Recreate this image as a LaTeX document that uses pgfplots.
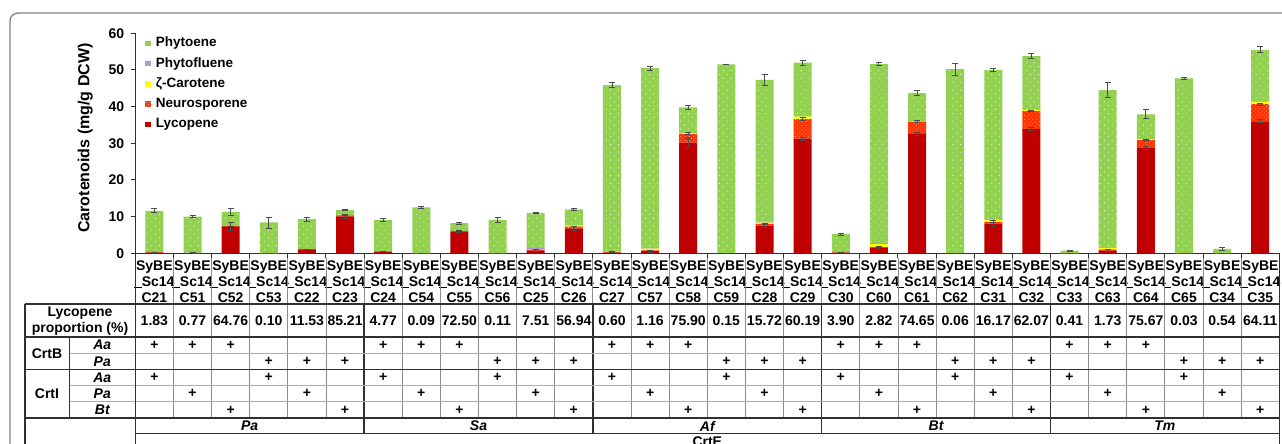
\documentclass[border=0pt]{standalone}
\usepackage{fontspec}
\setmainfont{Liberation Sans}
\usepackage{pgfplots}
\usepackage{pgfplotstable}
\pgfplotsset{compat=1.18}
\usetikzlibrary{patterns.meta}

\definecolor{cPhy}{HTML}{92D050}
\definecolor{cPfl}{HTML}{A897CF}
\definecolor{cZet}{HTML}{FFFF00}
\definecolor{cNeu}{HTML}{FF3300}
\definecolor{cLyc}{HTML}{C00000}
\definecolor{cFrame}{HTML}{808080}
\definecolor{cGrid}{HTML}{8C8C8C}
\definecolor{cLine}{HTML}{303030}
\newcommand{\us}{\rule[-1.6pt]{7.6pt}{1.1pt}}

\pgfplotstableread{
x lyc lyce neu neue zet pfl phy phye
0 0.21 0.05 0.10 0.0 0.00 0.10 11.19 0.5
1 0.08 0.03 0.05 0.0 0.00 0.05 9.82 0.3
2 7.32 1.20 0.10 0.0 0.00 0.00 3.88 1.0
3 0.01 0.00 0.00 0.0 0.00 0.00 8.39 1.5
4 1.07 0.10 0.10 0.0 0.00 0.00 8.13 0.5
5 10.05 0.60 0.30 0.0 0.00 0.00 1.45 0.2
6 0.43 0.05 0.05 0.0 0.00 0.00 8.62 0.3
7 0.01 0.00 0.00 0.0 0.00 0.00 12.49 0.15
8 5.95 0.30 0.10 0.0 0.00 0.00 2.15 0.3
9 0.01 0.00 0.00 0.0 0.00 0.00 9.09 0.6
10 0.83 0.30 0.20 0.0 0.10 0.25 9.62 0.15
11 6.83 0.50 0.45 0.0 0.25 0.00 4.47 0.3
12 0.28 0.05 0.10 0.0 0.10 0.00 45.42 0.7
13 0.59 0.30 0.20 0.0 0.50 0.10 49.11 0.5
14 30.20 1.20 2.40 0.3 0.10 0.00 7.10 0.6
15 0.08 0.00 0.00 0.0 0.00 0.00 51.42 0.1
16 7.44 0.40 0.60 0.0 0.30 0.40 38.56 1.5
17 31.30 0.40 5.30 0.4 0.70 0.00 14.70 0.7
18 0.20 0.05 0.05 0.0 0.00 0.00 4.95 0.3
19 1.46 0.30 0.20 0.0 0.90 0.30 48.74 0.5
20 32.60 0.40 3.30 0.3 0.10 0.00 7.70 0.7
21 0.03 0.00 0.00 0.0 0.00 0.00 50.17 1.6
22 8.10 0.80 0.40 0.0 0.60 0.30 40.60 0.5
23 33.90 0.30 4.90 0.2 0.30 0.00 14.70 0.6
24 0.00 0.00 0.00 0.0 0.00 0.00 0.70 0.2
25 0.77 0.30 0.20 0.0 0.50 0.00 43.03 2.0
26 28.70 0.50 2.20 0.2 0.10 0.00 6.90 1.2
27 0.01 0.00 0.00 0.0 0.00 0.00 47.69 0.15
28 0.01 0.00 0.00 0.0 0.00 0.00 1.19 0.5
29 36.00 0.40 4.70 0.3 0.60 0.00 14.20 0.8
}\datatable

\begin{document}
\begin{tikzpicture}[font=\fontsize{14}{15.5}\selectfont\bfseries]
\useasboundingbox (0,0) rectangle (1282pt,444pt);
\begin{axis}[
  at={(135.3pt,190.7pt)}, anchor=south west,
  scale only axis, width=1144pt, height=220pt,
  xmin=-0.5, xmax=29.5, ymin=0, ymax=60,
  ybar stacked, bar width=18pt,
  axis lines*=left,
  axis line style={line width=1pt, cLine},
  tick style={line width=1pt, cLine},
  tick align=outside,
  major tick length=4.5pt,
  ytick={0,10,...,60},
  /pgf/number format/assume math mode=true,
  yticklabel style={font=\fontsize{14}{15}\selectfont\bfseries, xshift=-3pt},
  xtick={-0.5,0.5,...,29.5},
  xticklabels={},
  extra x ticks={0,...,29},
  extra x tick style={major tick length=0pt},
  extra x tick labels={{SyBE\\\us Sc14\\C21},{SyBE\\\us Sc14\\C51},{SyBE\\\us Sc14\\C52},{SyBE\\\us Sc14\\C53},{SyBE\\\us Sc14\\C22},{SyBE\\\us Sc14\\C23},{SyBE\\\us Sc14\\C24},{SyBE\\\us Sc14\\C54},{SyBE\\\us Sc14\\C55},{SyBE\\\us Sc14\\C56},{SyBE\\\us Sc14\\C25},{SyBE\\\us Sc14\\C26},{SyBE\\\us Sc14\\C27},{SyBE\\\us Sc14\\C57},{SyBE\\\us Sc14\\C58},{SyBE\\\us Sc14\\C59},{SyBE\\\us Sc14\\C28},{SyBE\\\us Sc14\\C29},{SyBE\\\us Sc14\\C30},{SyBE\\\us Sc14\\C60},{SyBE\\\us Sc14\\C61},{SyBE\\\us Sc14\\C62},{SyBE\\\us Sc14\\C31},{SyBE\\\us Sc14\\C32},{SyBE\\\us Sc14\\C33},{SyBE\\\us Sc14\\C63},{SyBE\\\us Sc14\\C64},{SyBE\\\us Sc14\\C65},{SyBE\\\us Sc14\\C34},{SyBE\\\us Sc14\\C35}},
  xticklabel style={align=center, font=\fontsize{14}{16}\selectfont\bfseries, inner sep=0pt, anchor=north, yshift=-7.5pt},
  ylabel={Carotenoids (mg/g DCW)},
  ylabel style={font=\fontsize{16}{18}\selectfont\bfseries, at={(axis description cs:-0.0437,0.524)}, anchor=center},
  legend style={at={(axis description cs:0,1)}, anchor=north west, xshift=9.9pt, yshift=-1.7pt, draw=none, fill=none, inner sep=0pt, row sep=4.3pt, font=\fontsize{13.5}{14}\selectfont\bfseries, nodes={inner sep=1.5pt, text height=10pt, text depth=3pt}},
  legend cell align=left,
  reverse legend,
  legend image code/.code={\path (0pt,0pt) -- (9pt,0pt); \draw[#1, draw=none] (0pt,-2.7pt) rectangle (5.4pt,2.7pt);},
  error bars/y dir=both, error bars/y explicit,
  error bars/error bar style={line width=0.9pt, black!70},
  error bars/error mark options={rotate=90, mark size=3pt, line width=0.9pt, black!70},
]
\addplot[fill=cLyc, draw=none] table[x=x, y=lyc, y error=lyce] {\datatable};
\addplot[fill=cNeu, draw=none, postaction={pattern={Dots[distance=3pt, radius=0.55pt, angle=45]}, pattern color=white!65!cNeu}] table[x=x, y=neu, y error=neue] {\datatable};
\addplot[fill=cZet, draw=none, error bars/y dir=none] table[x=x, y=zet] {\datatable};
\addplot[fill=cPfl, draw=none, error bars/y dir=none, postaction={pattern={Dots[distance=2.5pt, radius=0.55pt, angle=45]}, pattern color=white!60!cPfl}] table[x=x, y=pfl] {\datatable};
\addplot[fill=cPhy, draw=none, postaction={pattern={Dots[distance=5.5pt, radius=0.6pt, angle=45]}, pattern color=white!85!cPhy}] table[x=x, y=phy, y error=phye] {\datatable};
\legend{Lycopene, Neurosporene, ζ-Carotene, Phytofluene, Phytoene}
\end{axis}

\begin{scope}[shift={(0pt,444pt)}, x=1pt, y=-1pt]
  % outer frame
  \draw[cFrame, line width=1.3pt, rounded corners=8pt] (1300,13) -- (10,13) -- (10,480);
  % thin column separators
  \foreach \k in {1,...,29} {
    \pgfmathsetmacro\xx{135.3+38.133*\k}
    \draw[cGrid, line width=0.9pt] (\xx,258) -- (\xx,418);
  }
  % group separators
  \foreach \k in {6,12,18,24} {
    \pgfmathsetmacro\xx{135.3+38.133*\k}
    \draw[cLine, line width=1.3pt] (\xx,304) -- (\xx,433.3);
  }
  % light horizontal lines
  \draw[cGrid!70, line width=0.9pt] (69.3,353.3) -- (1279.3,353.3);
  \draw[cGrid!70, line width=0.9pt] (69.3,385.7) -- (1279.3,385.7);
  \draw[cGrid!70, line width=0.9pt] (69.3,401.8) -- (1279.3,401.8);
  % heavy lines
  \draw[cLine, line width=1.4pt] (25,304) -- (1279.3,304);
  \draw[cLine, line width=1.4pt] (25,337) -- (1279.3,337);
  \draw[cLine, line width=1.4pt] (25,369.5) -- (1279.3,369.5);
  \draw[cLine, line width=1.4pt] (25,418) -- (1279.3,418);
  \draw[cLine, line width=1.2pt] (135.3,433.3) -- (1279.3,433.3);
  \draw[cLine, line width=1.4pt] (25,304) -- (25,480);
  \draw[cLine, line width=1.4pt] (69.3,337) -- (69.3,418);
  \draw[cLine, line width=1.4pt] (135.3,253.3) -- (135.3,480);
  \draw[cLine, line width=1.4pt] (1279.3,258) -- (1279.3,480);
  % row headers
  \node[align=center, font=\fontsize{14}{16}\selectfont\bfseries] at (80,321) {Lycopene\\proportion (\%)};
  \node at (47,353.3) {CrtB};
  \node at (47,394) {CrtI};
  \node[font=\fontsize{14}{15}\selectfont\bfseries\itshape] at (102.3,345.2) {Aa};
  \node[font=\fontsize{14}{15}\selectfont\bfseries\itshape] at (102.3,361.4) {Pa};
  \node[font=\fontsize{14}{15}\selectfont\bfseries\itshape] at (102.3,377.6) {Aa};
  \node[font=\fontsize{14}{15}\selectfont\bfseries\itshape] at (102.3,393.8) {Pa};
  \node[font=\fontsize{14}{15}\selectfont\bfseries\itshape] at (102.3,410) {Bt};
  % lycopene proportions
  \foreach \v [count=\i from 0] in {1.83,0.77,64.76,0.10,11.53,85.21,4.77,0.09,72.50,0.11,7.51,56.94,0.60,1.16,75.90,0.15,15.72,60.19,3.90,2.82,74.65,0.06,16.17,62.07,0.41,1.73,75.67,0.03,0.54,64.11} {
    \pgfmathsetmacro\xx{135.3+38.133*(\i+0.5)}
    \node at (\xx,321) {\v};
  }
  % plus marks
  \foreach \i in {0,...,29} {
    \pgfmathsetmacro\xx{135.3+38.133*(\i+0.5)}
    \pgfmathtruncatemacro\msix{mod(\i,6)}
    \pgfmathtruncatemacro\mthree{mod(\i,3)}
    \ifnum\msix<3 \node at (\xx,345.2) {+}; \else \node at (\xx,361.4) {+}; \fi
    \ifcase\mthree \node at (\xx,377.6) {+}; \or \node at (\xx,393.8) {+}; \or \node at (\xx,410) {+}; \fi
  }
  % CrtE donors
  \foreach \t [count=\g from 0] in {Pa,Sa,Af,Bt,Tm} {
    \pgfmathsetmacro\xx{135.3+38.133*(6*\g+3)}
    \node[font=\fontsize{14}{15}\selectfont\bfseries\itshape] at (\xx,426) {\t};
  }
  \node at (707.3,442) {CrtE};
\end{scope}
\end{tikzpicture}
\end{document}
